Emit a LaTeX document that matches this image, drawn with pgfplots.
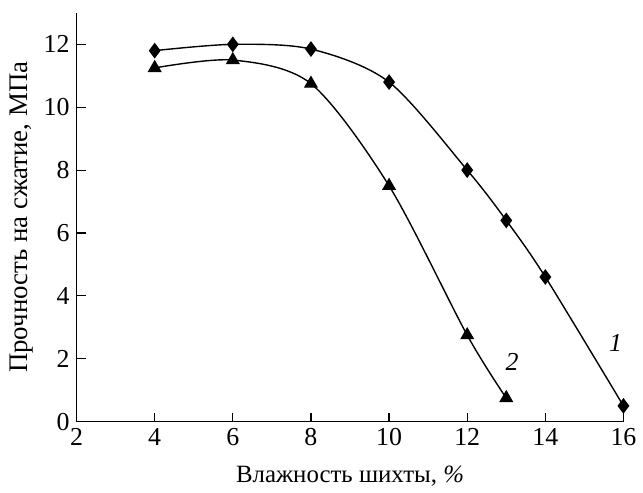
\documentclass[border=0pt]{standalone}
\usepackage{pgfplots}
\pgfplotsset{compat=1.18}
\usepackage{fontspec}
\setmainfont{Liberation Serif}
\begin{document}
\begin{tikzpicture}
\begin{axis}[
  scale only axis,
  width=275pt, height=205.5pt,
  xmin=2, xmax=16, ymin=0, ymax=13,
  axis lines=left,
  axis line style={-, line width=0.6pt},
  xtick={2,4,...,16}, ytick={0,2,...,12},
  tick align=inside,
  major tick length=4.5pt,
  tick style={line width=0.6pt, black},
  every tick label/.append style={font=\fontsize{13}{15}\selectfont},
  /pgf/number format/assume math mode=true,
  xlabel style={font=\fontsize{12.5}{15}\selectfont, yshift=-3pt},
  ylabel style={font=\fontsize{13.5}{16}\selectfont, yshift=-1.5pt},
  xlabel={Влажность шихты, \textit{\%}},
  ylabel={Прочность на сжатие, МПа},
  clip=false,
]
\addplot[black, line width=0.7pt, smooth, mark=diamond*, mark size=3.4pt, mark options={solid}]
  coordinates {(4,11.8) (6,12.0) (8,11.85) (10,10.8) (12,8.0) (13,6.4) (14,4.6) (16,0.5)};
\addplot[black, line width=0.7pt, smooth, mark=triangle*, mark size=3.4pt, mark options={solid}]
  coordinates {(4,11.25) (6,11.5) (8,10.75) (10,7.5) (12,2.75) (13,0.75)};
\node[font=\fontsize{13}{15}\selectfont\itshape] at (axis cs:15.8,2.5) {1};
\node[font=\fontsize{13}{15}\selectfont\itshape] at (axis cs:13.15,1.9) {2};
\end{axis}
\path (-38.5pt,-34.5pt) (284pt,212pt);
\end{tikzpicture}
\end{document}
